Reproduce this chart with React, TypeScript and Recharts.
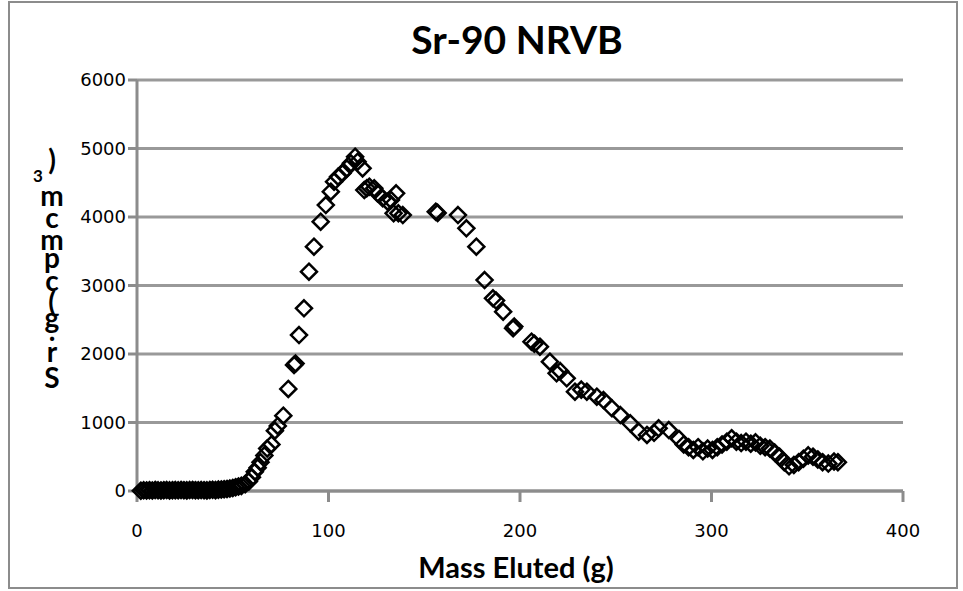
import { CartesianGrid, Scatter, ScatterChart, XAxis, YAxis } from 'recharts'

// mass eluted (g)
const massEluted = [
  2, 3.5, 5, 6.5, 8, 9.5, 11, 12.5, 14, 15.5, 17, 18.5, 20, 21.5, 23, 24.5, 26, 27.5, 29, 30.5, 32,
  33.5, 35, 36.5, 38, 39.5, 41, 42.5, 44, 45.5, 47, 48.5, 50, 51.5, 53,
  54.5, 56.5, 58.4, 60, 61.5, 63, 64.5, 66.5, 68, 70.2, 72, 73.5, 76.4, 79, 82, 82.8, 84.6, 87.2,
  89.8, 92.4, 95.9, 98.6, 101.2, 102.9, 105, 107.3, 109.6, 111.7, 113.9, 115.2, 117.8, 118.7, 120,
  121.3, 123.9, 125.6, 128.3, 130.9, 132.6, 134, 135.3, 136.5, 138.8, 156, 157, 167.6, 172, 177.2,
  181.5, 185.9, 187.5, 191.2, 196.4, 197, 206, 207.5, 210.4, 215.6, 219.1, 221, 224.4, 228.7, 232,
  234.9, 240.1, 243.6, 248, 252.4, 257.6, 262, 266.3, 270, 272.4, 277.7, 283, 285.5, 288, 290.5,
  293, 295.5, 298, 300.5, 303, 305.5, 308, 310.5, 313, 315.5, 318, 320.5, 323, 325.5, 328, 330.5,
  333, 335.5, 338, 340.5, 343, 345.5, 348, 350.5, 353, 355.5, 358, 361, 364, 366,
]

// Sr activity
const srValues = [
  5, 10, 8, 12, 6, 15, 10, 8, 12, 14, 9, 11, 13, 10, 15, 12, 9, 14, 16, 12, 10,
  14, 12, 9, 15, 18, 13, 20, 22, 26, 30, 35, 45, 55, 65,
  75, 100, 140, 200, 280, 340, 420, 520, 620, 680, 880, 950, 1100, 1490, 1840, 1860, 2277, 2667,
  3202, 3567, 3932, 4175, 4370, 4516, 4589, 4638, 4710, 4783, 4880, 4808, 4710, 4394, 4420,
  4442, 4419, 4346, 4273, 4224, 4250, 4054, 4346, 4054, 4029, 4078, 4060, 4029, 3835, 3567,
  3080, 2813, 2780, 2618, 2375, 2400, 2180, 2150, 2107, 1888, 1718, 1750, 1645, 1450, 1480,
  1450, 1377, 1328, 1207, 1109, 988, 866, 818, 850, 915, 890, 760, 680, 640, 600,
  640, 580, 620, 600, 640, 680, 720, 770, 720, 700, 720, 690, 710, 660, 640, 620,
  560, 500, 420, 360, 380, 420, 470, 520, 500, 460, 420, 400, 430, 420,
]

const xTicks = [0, 100, 200, 300, 400]
const yTicks = [0, 1000, 2000, 3000, 4000, 5000, 6000]

// garbled vertical y-axis title, one glyph per row as in the original
const yLabelChars = [')', '3', 'm', 'c', 'm', 'p', 'c', '(', 'g', '.', 'r', 'S']
const yLabelRows = [170, 182, 206, 228, 250, 268, 291, 312, 328, 341, 362, 388]

const data = massEluted.map((x, i) => ({ x, y: srValues[i] }))

const Diamond = (props: any) => {
  const { cx, cy } = props
  if (cx == null || cy == null) return null
  const r = 8
  return (
    <path
      d={`M${cx},${cy - r}L${cx + r},${cy}L${cx},${cy + r}L${cx - r},${cy}Z`}
      fill="none"
      stroke="#000"
      strokeWidth={2.5}
    />
  )
}

const YTitle = () => (
  <g>
    {yLabelChars.map((ch, i) => (
      <text
        key={i}
        x={ch === '3' ? 38 : 52}
        y={yLabelRows[i]}
        textAnchor="middle"
        fontFamily="Lato, 'Open Sans', sans-serif"
        fontWeight="bold"
        fontSize={ch === '3' ? 17 : 28}
        fill="#000"
      >
        {ch}
      </text>
    ))}
  </g>
)

export default function App() {
  return (
    <div style={{ position: 'absolute', left: 0, top: 0, width: 963, height: 591, background: '#fff' }}>
      <div
        style={{
          position: 'absolute',
          left: 8,
          top: 1,
          width: 950,
          height: 588,
          border: '2px solid #8c8c8c',
          boxSizing: 'border-box',
        }}
      />
      <ScatterChart
        width={963}
        height={591}
        margin={{ top: 80, right: 60, bottom: 40, left: 67 }}
        style={{ position: 'absolute', left: 0, top: 0 }}
      >
        <CartesianGrid horizontal vertical={false} stroke="#999" strokeWidth={3} />
        <XAxis
          type="number"
          dataKey="x"
          domain={[0, 400]}
          ticks={xTicks}
          height={60}
          tickSize={11}
          tickMargin={22}
          axisLine={{ stroke: '#8c8c8c', strokeWidth: 3 }}
          tickLine={{ stroke: '#8c8c8c', strokeWidth: 3 }}
          tick={{ fill: '#000', fontSize: 18, fontFamily: 'DejaVu Sans' }}
        />
        <YAxis
          type="number"
          dataKey="y"
          domain={[0, 6000]}
          ticks={yTicks}
          width={70}
          tickSize={9}
          tickMargin={2}
          axisLine={{ stroke: '#8c8c8c', strokeWidth: 3 }}
          tickLine={{ stroke: '#8c8c8c', strokeWidth: 3 }}
          tick={{ fill: '#000', fontSize: 18, fontFamily: 'DejaVu Sans' }}
        />
        <Scatter data={data} shape={Diamond} isAnimationActive={false} />
        <text
          x={517}
          y={54}
          textAnchor="middle"
          fontFamily="Lato, 'Open Sans', sans-serif"
          fontWeight="bold"
          fontSize={39}
          fill="#000"
        >
          Sr-90 NRVB
        </text>
        <text
          x={516}
          y={578}
          textAnchor="middle"
          fontFamily="Lato, 'Open Sans', sans-serif"
          fontWeight="bold"
          fontSize={29}
          fill="#000"
        >
          Mass Eluted (g)
        </text>
        <YTitle />
      </ScatterChart>
    </div>
  )
}
